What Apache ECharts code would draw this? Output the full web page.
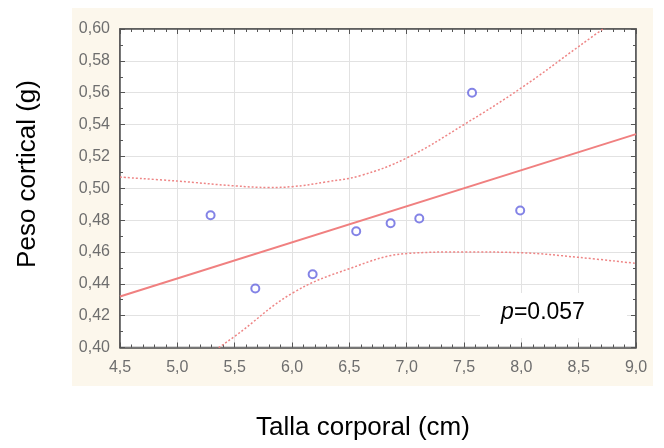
<!DOCTYPE html>
<html>
<head>
<meta charset="utf-8">
<script src="https://cdn.jsdelivr.net/npm/echarts@6/dist/echarts.min.js"></script>
<style>html,body{margin:0;padding:0;background:#fff}#c{width:664px;height:448px}</style>
</head>
<body>
<div id="c"></div>
<script>
// Data
const heightCm = [5.29, 5.68, 6.18, 6.56, 6.86, 7.11, 7.57, 7.99];
const weightG  = [0.483, 0.437, 0.446, 0.473, 0.478, 0.481, 0.560, 0.486];
const fitX = [4.5, 9.0];
const fitY = [0.432, 0.534];
const upperX = [4.5, 5.0, 5.5, 5.8, 6.0, 6.3, 6.6, 7.0, 7.5, 8.0, 8.5, 9.0];
const upperY = [0.507, 0.5045, 0.5015, 0.5005, 0.501, 0.504, 0.508, 0.519, 0.540, 0.563, 0.589, 0.615];
const lowerX = [4.5, 5.0, 5.5, 6.0, 6.5, 7.0, 7.5, 8.0, 8.5, 9.0];
const lowerY = [0.357, 0.382, 0.407, 0.434, 0.4495, 0.459, 0.460, 0.4595, 0.4566, 0.4528];
const xTicks = ['4,5','5,0','5,5','6,0','6,5','7,0','7,5','8,0','8,5','9,0'];
const yTicks = ['0,40','0,42','0,44','0,46','0,48','0,50','0,52','0,54','0,56','0,58','0,60'];
const pText = '0.057';

const zip = (a, b) => a.map((v, i) => [v, b[i]]);
const chart = echarts.init(document.getElementById('c'), null, {renderer: 'canvas'});
const axisColor = '#555';
const labelStyle = {color: '#6e6e6e', fontSize: 16, fontFamily: 'Arial, Liberation Sans, sans-serif'};
const xMin = 4.5, xMax = 9.0, yMin = 0.40, yMax = 0.60;
const common = {
  axisLine: {show: true, lineStyle: {color: axisColor, width: 1.5}},
  axisTick: {show: true, inside: true, length: 5, lineStyle: {color: axisColor}},
  minorTick: {show: true, length: 3, lineStyle: {color: axisColor}},
};
chart.setOption({
  animation: false,
  grid: {left: 120, right: 28, top: 29, bottom: 100.5, show: true, backgroundColor: '#fff', borderColor: axisColor, borderWidth: 1.5},
  graphic: [
    {type: 'rect', z: -100, shape: {x: 72, y: 8, width: 581, height: 378}, style: {fill: '#fcf7ec'}},
    {type: 'rect', z: 10, shape: {x: 480, y: 293, width: 147, height: 45}, style: {fill: '#fff'}},
    {type: 'text', z: 11, x: 543, y: 313, style: {text: '{i|p}=' + pText, rich: {i: {fontStyle: 'italic', fontSize: 23, fontFamily: 'Arial, Liberation Sans, sans-serif', fill: '#000'}}, fontSize: 23, fontFamily: 'Arial, Liberation Sans, sans-serif', fill: '#000', align: 'center', verticalAlign: 'middle'}},
    {type: 'text', x: 363, y: 428, style: {text: 'Talla corporal (cm)', fontSize: 26, fontFamily: 'Arial, Liberation Sans, sans-serif', fill: '#000', align: 'center', verticalAlign: 'middle'}},
    {type: 'text', x: 28, y: 174, rotation: Math.PI / 2, style: {text: 'Peso cortical (g)', fontSize: 26, fontFamily: 'Arial, Liberation Sans, sans-serif', fill: '#000', align: 'center', verticalAlign: 'middle'}}
  ],
  xAxis: [
    Object.assign({type: 'value', min: xMin, max: xMax, interval: 0.5, minorTick: {show: true, splitNumber: 5, length: 3, lineStyle: {color: axisColor}},
      axisLabel: {...labelStyle, margin: 12, formatter: (v) => xTicks[Math.round((v - xMin) / 0.5)]},
      splitLine: {show: true, lineStyle: {color: '#e2e2e2', width: 1}}}, {axisLine: common.axisLine, axisTick: common.axisTick}),
    Object.assign({type: 'value', position: 'top', min: xMin, max: xMax, interval: 0.5, minorTick: {show: true, splitNumber: 5, length: 3, lineStyle: {color: axisColor}},
      axisLabel: {show: false}, splitLine: {show: false}}, {axisLine: common.axisLine, axisTick: common.axisTick})
  ],
  yAxis: [
    Object.assign({type: 'value', min: yMin, max: yMax, interval: 0.02, minorTick: {show: true, splitNumber: 2, length: 3, lineStyle: {color: axisColor}},
      axisLabel: {...labelStyle, margin: 10, formatter: (v) => yTicks[Math.round((v - yMin) / 0.02)]},
      splitLine: {show: true, lineStyle: {color: '#e2e2e2', width: 1}}}, {axisLine: common.axisLine, axisTick: common.axisTick}),
    Object.assign({type: 'value', position: 'right', min: yMin, max: yMax, interval: 0.02, minorTick: {show: true, splitNumber: 2, length: 3, lineStyle: {color: axisColor}},
      axisLabel: {show: false}, splitLine: {show: false}}, {axisLine: common.axisLine, axisTick: common.axisTick})
  ],
  series: [
    {type: 'line', data: zip(upperX, upperY), smooth: 0.4, symbol: 'none', clip: true,
      lineStyle: {color: '#ee8585', width: 1.5, type: [2, 2]}},
    {type: 'line', data: zip(lowerX, lowerY), smooth: 0.4, symbol: 'none', clip: true,
      lineStyle: {color: '#ee8585', width: 1.5, type: [2, 2]}},
    {type: 'line', data: zip(fitX, fitY), symbol: 'none', clip: true,
      lineStyle: {color: '#f08080', width: 2}},
    {type: 'scatter', data: zip(heightCm, weightG), symbol: 'circle', symbolSize: 8,
      itemStyle: {color: '#fff', borderColor: '#6464e0', borderWidth: 2}}
  ]
});
</script>
</body>
</html>
